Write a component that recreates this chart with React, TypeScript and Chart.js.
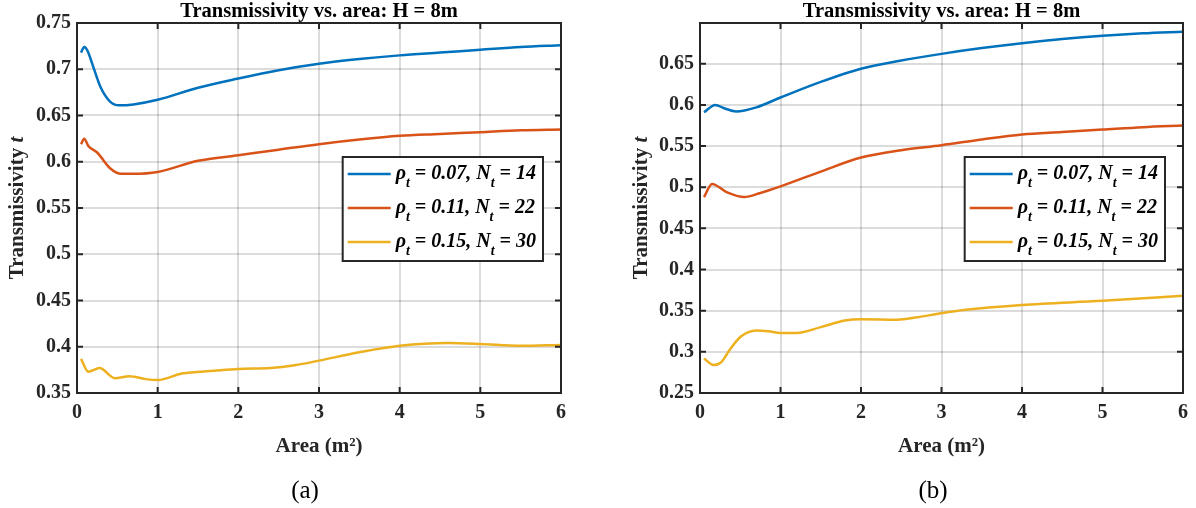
import React, { useEffect, useRef } from 'react';
import { Chart, registerables } from 'chart.js';

Chart.register(...registerables);

// ---------- data ----------
const seriesColors = ['#0072BD', '#D95319', '#EDB120'];
const rhoLabels = ['0.07', '0.11', '0.15'];
const nLabels = ['14', '22', '30'];
const seriesLabels = ['ρt = 0.07, Nt = 14', 'ρt = 0.11, Nt = 22', 'ρt = 0.15, Nt = 30'];

const xTicks = [0, 1, 2, 3, 4, 5, 6];
const yTicksA = [0.35, 0.4, 0.45, 0.5, 0.55, 0.6, 0.65, 0.7, 0.75];
const yTicksB = [0.25, 0.3, 0.35, 0.4, 0.45, 0.5, 0.55, 0.6, 0.65];

const titleText = 'Transmissivity vs. area: H = 8m';
const xTitleText = 'Area (m²)';
const yTitleMain = 'Transmissivity ';
const yTitleItalic = 't';
const captions = ['(a)', '(b)'];

// Panel (a)
const aBlueX = [0.05, 0.09, 0.13, 0.2, 0.29, 0.41, 0.52, 0.7, 1.0, 1.5, 2.0, 2.5, 3.0, 3.5, 4.0, 4.5, 5.0, 5.5, 6.0];
const aBlueY = [0.718, 0.724, 0.72, 0.703, 0.681, 0.665, 0.661, 0.662, 0.667, 0.68, 0.69, 0.699, 0.706, 0.711, 0.715, 0.718, 0.721, 0.724, 0.726];
const aOrangeX = [0.05, 0.09, 0.14, 0.25, 0.41, 0.55, 0.7, 1.0, 1.5, 2.0, 2.5, 3.0, 3.5, 4.0, 4.5, 5.0, 5.5, 6.0];
const aOrangeY = [0.619, 0.625, 0.617, 0.61, 0.593, 0.587, 0.587, 0.589, 0.601, 0.607, 0.613, 0.619, 0.624, 0.628, 0.63, 0.632, 0.634, 0.635];
const aYellowX = [0.05, 0.14, 0.28, 0.47, 0.65, 0.85, 1.0, 1.3, 1.7, 2.0, 2.4, 2.7, 3.0, 3.5, 4.0, 4.6, 5.0, 5.5, 6.0];
const aYellowY = [0.387, 0.373, 0.377, 0.366, 0.368, 0.365, 0.364, 0.371, 0.374, 0.376, 0.377, 0.38, 0.385, 0.394, 0.401, 0.404, 0.403, 0.401, 0.402];

// Panel (b)
const bBlueX = [0.05, 0.19, 0.3, 0.45, 0.7, 1.0, 1.5, 2.0, 2.5, 3.0, 3.5, 4.0, 4.5, 5.0, 5.5, 6.0];
const bBlueY = [0.591, 0.6, 0.596, 0.592, 0.597, 0.609, 0.628, 0.644, 0.654, 0.662, 0.669, 0.675, 0.68, 0.684, 0.687, 0.689];
const bOrangeX = [0.05, 0.15, 0.33, 0.55, 0.75, 1.0, 1.5, 2.0, 2.5, 3.0, 3.5, 4.0, 4.5, 5.0, 5.5, 6.0];
const bOrangeY = [0.488, 0.504, 0.494, 0.488, 0.493, 0.501, 0.519, 0.536, 0.545, 0.551, 0.558, 0.564, 0.567, 0.57, 0.573, 0.575];
const bYellowX = [0.05, 0.17, 0.26, 0.38, 0.5, 0.6, 0.7, 0.85, 1.0, 1.2, 1.5, 1.8, 2.0, 2.45, 2.7, 3.0, 3.3, 4.0, 5.0, 6.0];
const bYellowY = [0.292, 0.284, 0.287, 0.304, 0.318, 0.324, 0.326, 0.325, 0.323, 0.323, 0.33, 0.338, 0.3395, 0.339, 0.342, 0.347, 0.351, 0.357, 0.362, 0.368];

// ---------- styling ----------
const FONT = "'Liberation Serif', 'Times New Roman', Times, serif";
const AXIS_COLOR = '#262626';
const GRID_COLOR = 'rgba(38,38,38,0.16)';

type PanelCfg = {
  xs: number[][];
  ys: number[][];
  yMin: number;
  yMax: number;
  yTicks: number[];
  yAxisWidth: number;
  padRight: number;
  yTitleX: number;
};

const panels: PanelCfg[] = [
  {
    xs: [aBlueX, aOrangeX, aYellowX],
    ys: [aBlueY, aOrangeY, aYellowY],
    yMin: 0.35,
    yMax: 0.75,
    yTicks: yTicksA,
    yAxisWidth: 77,
    padRight: 37,
    yTitleX: 18,
  },
  {
    xs: [bBlueX, bOrangeX, bYellowX],
    ys: [bBlueY, bOrangeY, bYellowY],
    yMin: 0.25,
    yMax: 0.6995,
    yTicks: yTicksB,
    yAxisWidth: 102,
    padRight: 12,
    yTitleX: 44,
  },
];

const framePlugin = {
  id: 'matlabFrame',
  afterDatasetsDraw(chart: any, _args: any, opts: any) {
    const { ctx, chartArea } = chart;
    const { left, top, right, bottom } = chartArea;
    const xs = chart.scales.x;
    const ys = chart.scales.y;
    ctx.save();
    // tick marks (inward, all four sides)
    ctx.strokeStyle = AXIS_COLOR;
    ctx.lineWidth = 2;
    ctx.beginPath();
    for (const t of xs.ticks) {
      const px = xs.getPixelForValue(t.value);
      ctx.moveTo(px, bottom);
      ctx.lineTo(px, bottom - 6);
      ctx.moveTo(px, top);
      ctx.lineTo(px, top + 6);
    }
    for (const t of ys.ticks) {
      const py = ys.getPixelForValue(t.value);
      ctx.moveTo(left, py);
      ctx.lineTo(left + 6, py);
      ctx.moveTo(right, py);
      ctx.lineTo(right - 6, py);
    }
    ctx.stroke();
    ctx.strokeRect(left, top, right - left, bottom - top);

    // legend
    const mainSize = 20;
    const subSize = 14;
    const mainFont = `italic bold ${mainSize}px ${FONT}`;
    const subFont = `italic bold ${subSize}px ${FONT}`;
    const rows = chart.data.datasets.map((_ds: any, i: number) => [
      { t: 'ρ', sub: false },
      { t: 't', sub: true },
      { t: ` = ${rhoLabels[i]}, N`, sub: false },
      { t: 't', sub: true },
      { t: ` = ${nLabels[i]}`, sub: false },
    ]);
    const widthOf = (parts: any[]) =>
      parts.reduce((w: number, p: any) => {
        ctx.font = p.sub ? subFont : mainFont;
        return w + ctx.measureText(p.t).width;
      }, 0);
    const textW = Math.max(...rows.map(widthOf));
    const boxW = 53 + textW + 7;
    const boxH = 104;
    const bRight = right - 18;
    const bLeft = bRight - boxW;
    const bTop = (top + bottom) / 2 - boxH / 2 + 1;
    ctx.fillStyle = '#ffffff';
    ctx.fillRect(bLeft, bTop, boxW, boxH);
    ctx.strokeStyle = AXIS_COLOR;
    ctx.lineWidth = 2;
    ctx.strokeRect(bLeft, bTop, boxW, boxH);
    rows.forEach((parts: any[], i: number) => {
      const cy = bTop + 17 + i * 34;
      const ds = chart.data.datasets[i];
      ctx.strokeStyle = ds.borderColor;
      ctx.lineWidth = 2.5;
      ctx.beginPath();
      ctx.moveTo(bLeft + 5, cy);
      ctx.lineTo(bLeft + 48, cy);
      ctx.stroke();
      let x = bLeft + 53;
      ctx.fillStyle = '#000000';
      ctx.textBaseline = 'alphabetic';
      ctx.textAlign = 'left';
      for (const p of parts) {
        ctx.font = p.sub ? subFont : mainFont;
        ctx.fillText(p.t, x, p.sub ? cy + 13 : cy + 5);
        x += ctx.measureText(p.t).width;
      }
    });

    // y axis title (with italic t)
    const tf = `bold 21px ${FONT}`;
    const tfi = `italic bold 21px ${FONT}`;
    ctx.font = tf;
    const w1 = ctx.measureText(yTitleMain).width;
    ctx.font = tfi;
    const w2 = ctx.measureText(yTitleItalic).width;
    ctx.translate(opts.yTitleX, (top + bottom) / 2);
    ctx.rotate(-Math.PI / 2);
    ctx.fillStyle = AXIS_COLOR;
    ctx.textBaseline = 'middle';
    ctx.textAlign = 'left';
    const start = -(w1 + w2) / 2;
    ctx.font = tf;
    ctx.fillText(yTitleMain, start, 0);
    ctx.font = tfi;
    ctx.fillText(yTitleItalic, start + w1, 0);
    ctx.restore();
  },
};

function makeConfig(p: PanelCfg): any {
  return {
    type: 'line',
    data: {
      datasets: p.xs.map((xArr, i) => ({
        label: seriesLabels[i],
        data: xArr.map((x, j) => ({ x, y: p.ys[i][j] })),
        borderColor: seriesColors[i],
        backgroundColor: seriesColors[i],
        borderWidth: 2.5,
        pointRadius: 0,
        cubicInterpolationMode: 'monotone',
        fill: false,
      })),
    },
    options: {
      responsive: false,
      animation: false,
      devicePixelRatio: 1,
      events: [],
      layout: { padding: { left: 0, right: p.padRight, top: 0, bottom: 0 } },
      plugins: {
        legend: { display: false },
        tooltip: { enabled: false },
        title: {
          display: true,
          text: titleText,
          fullSize: false,
          color: '#000000',
          font: { family: FONT, size: 20.5, weight: 'bold', lineHeight: 1 },
          padding: { top: 1.5, bottom: 1 },
        },
        matlabFrame: { yTitleX: p.yTitleX },
      },
      scales: {
        x: {
          type: 'linear',
          min: 0,
          max: 6,
          afterBuildTicks: (s: any) => {
            s.ticks = xTicks.map((v) => ({ value: v }));
          },
          afterFit: (s: any) => {
            s.height = 115;
          },
          ticks: {
            autoSkip: false,
            maxRotation: 0,
            padding: 8,
            color: AXIS_COLOR,
            font: { family: FONT, size: 20, weight: 'bold', lineHeight: 1.2 },
            callback: (v: any) => String(v),
          },
          grid: { color: GRID_COLOR, lineWidth: 2, drawTicks: false },
          border: { display: false },
          title: {
            display: true,
            text: xTitleText,
            color: AXIS_COLOR,
            font: { family: FONT, size: 21, weight: 'bold', lineHeight: 1.2 },
            padding: { top: 0, bottom: 48.4 },
          },
        },
        y: {
          type: 'linear',
          min: p.yMin,
          max: p.yMax,
          afterBuildTicks: (s: any) => {
            s.ticks = p.yTicks.map((v) => ({ value: v }));
          },
          afterFit: (s: any) => {
            s.width = p.yAxisWidth;
          },
          ticks: {
            autoSkip: false,
            padding: 6,
            color: AXIS_COLOR,
            font: { family: FONT, size: 20, weight: 'bold', lineHeight: 1.2 },
            callback: (v: any) => String(+Number(v).toFixed(2)),
          },
          grid: { color: GRID_COLOR, lineWidth: 2, drawTicks: false },
          border: { display: false },
        },
      },
    },
    plugins: [framePlugin],
  };
}

function Panel({ cfg }: { cfg: PanelCfg }) {
  const ref = useRef<HTMLCanvasElement>(null);
  useEffect(() => {
    const chart = new Chart(ref.current as HTMLCanvasElement, makeConfig(cfg));
    return () => chart.destroy();
  }, [cfg]);
  return (
    <canvas
      ref={ref}
      width={598}
      height={508}
      style={{ display: 'block', width: 598, height: 508 }}
    />
  );
}

export default function App() {
  const captionCenters = [305, 933];
  return (
    <div
      style={{
        position: 'absolute',
        left: 0,
        top: 0,
        width: 1196,
        height: 508,
        background: '#ffffff',
        overflow: 'hidden',
      }}
    >
      <div style={{ position: 'absolute', left: 0, top: 0, width: 598, height: 508 }}>
        <Panel cfg={panels[0]} />
      </div>
      <div style={{ position: 'absolute', left: 598, top: 0, width: 598, height: 508 }}>
        <Panel cfg={panels[1]} />
      </div>
      {captions.map((c, i) => (
        <div
          key={c}
          style={{
            position: 'absolute',
            left: captionCenters[i] - 40,
            width: 80,
            top: 476,
            lineHeight: '28px',
            textAlign: 'center',
            fontFamily: FONT,
            fontSize: 25,
            color: '#000',
          }}
        >
          {c}
        </div>
      ))}
    </div>
  );
}
